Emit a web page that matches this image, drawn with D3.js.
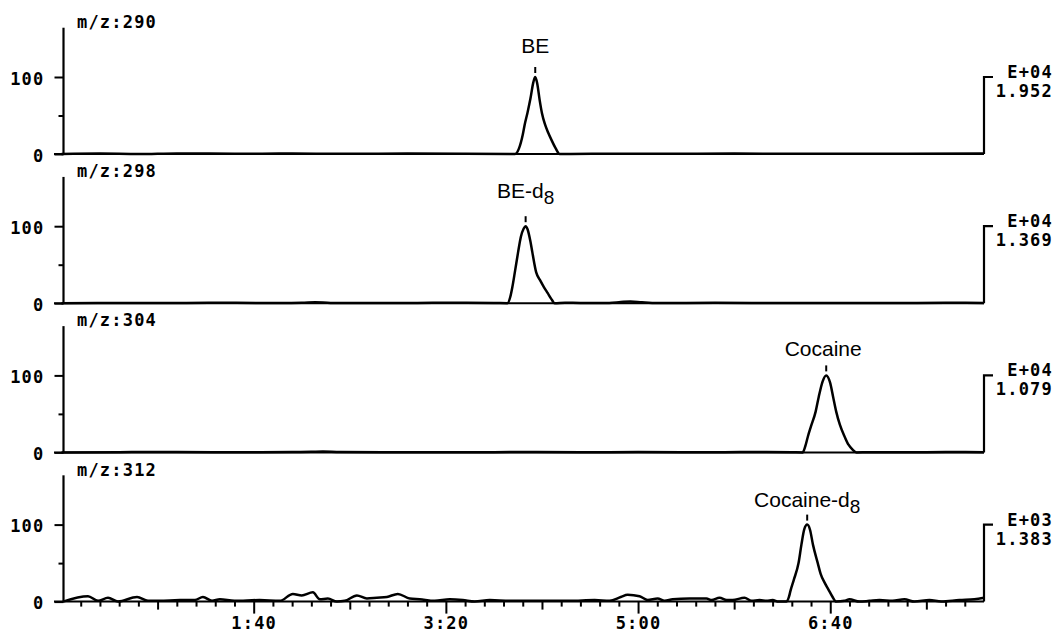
<!DOCTYPE html>
<html><head><meta charset="utf-8">
<script src="https://cdn.jsdelivr.net/npm/d3@7"></script>
<style>body{margin:0;background:#fff}svg{display:block}</style>
</head><body><svg id="c" width="1058" height="635"></svg>
<script>
// ---------- data ----------
const panelLabels = ["m/z:290", "m/z:298", "m/z:304", "m/z:312"];
const scaleExponents = ["E+04", "E+04", "E+04", "E+03"];
const scaleValues = ["1.952", "1.369", "1.079", "1.383"];
const peakNames = ["BE", "BE-d", "Cocaine", "Cocaine-d"];
const peakSubscripts = ["", "8", "", "8"];
const peakTimes = [246.5, 241.5, 397.9, 388.0];

const yTicks = [0, 100];
const yMinorTicks = [50];
const xMajorTicks = [100, 200, 300, 400];
const xMajorLabels = ["1:40", "3:20", "5:00", "6:40"];
const xMediumTicks = [50, 150, 250, 350, 450];
const xMinorTicks = [10,20,30,40,60,70,80,90,110,120,130,140,160,170,180,190,210,220,230,240,260,270,280,290,310,320,330,340,360,370,380,390,410,420,430,440,460,470];

// m/z 290 (BE)
const t290 = [0, 20, 40, 60, 90, 120, 150, 180, 210, 236, 238, 240, 241, 242.5, 244, 245.5, 246.5, 247.5, 248.8, 250, 251.5, 253.2, 255, 257, 259.2, 262, 290, 320, 350, 380, 410, 440, 480];
const i290 = [0, 0.5, 0, 0.8, 0.3, 0.6, 0.2, 0.5, 0.3, 0, 7, 25, 38, 54, 72, 93, 100, 92, 70, 53, 39, 28, 18, 8, 0, 0, 0.4, 0.2, 0.5, 0.2, 0.4, 0.3, 0.5];

// m/z 298 (BE-d8)
const t298 = [0, 25, 50, 80, 110, 125, 132, 140, 170, 200, 225, 232, 233.5, 234.6, 236, 237.5, 239, 240.5, 241.5, 242.5, 244, 245, 247, 249, 251, 253, 255, 256.6, 262, 270, 285, 291, 296, 302, 310, 340, 370, 400, 430, 460, 480];
const i298 = [0, 0.4, 0.2, 0.6, 0.3, 0.5, 1.2, 0.4, 0.2, 0.5, 0.3, 0, 8, 21, 42, 65, 86, 97, 100, 96, 80, 66, 40, 30, 21, 13, 5, 0, 0.6, 0.3, 0.4, 1.5, 2.2, 1.2, 0.3, 0.5, 0.2, 0.4, 0.3, 0.5, 0.4];

// m/z 304 (Cocaine)
const t304 = [0, 30, 60, 90, 120, 130, 136, 145, 180, 210, 240, 270, 300, 330, 360, 380, 385.6, 387, 388.4, 390, 392.4, 394, 396, 397.9, 400, 401.5, 403.1, 405, 407.4, 409.5, 411.5, 413.7, 420, 440, 460, 480];
const i304 = [0, 0.3, 0.5, 0.2, 0.4, 0.8, 1.2, 0.4, 0.3, 0.2, 0.5, 0.3, 0.4, 0.2, 0.5, 0.2, 0, 8, 21, 34, 53, 72, 92, 100, 90, 72, 53, 36, 21, 10, 4, 0, 0.3, 0.2, 0.4, 0.3];

// m/z 312 (Cocaine-d8)
const t312 = [0.8, 13.8, 19, 24.2, 29.4, 39.3, 45, 51, 61.6, 69.4, 73.6, 78.3, 82.4, 90, 103, 113.6, 120.4, 125, 130.8, 134.4, 138.6, 143.3, 147.4, 153.7, 158.9, 164.1, 169.3, 175, 181.2, 186.4, 194.2, 202, 208.8, 215, 222.8, 233.2, 248.8, 264.4, 277.4, 285.2, 291, 294.6, 300.8, 305, 310.2, 313.8, 318, 326.8, 335.6, 338.3, 342.4, 346.1, 349.2, 355.4, 359, 363.2, 366.9, 370, 373.1, 377.1, 378.5, 379.3, 381, 383.5, 385, 386.5, 388, 389.5, 391, 393.5, 395, 397, 399, 401, 403.1, 407.4, 410, 415.2, 420.4, 425.6, 432.4, 438.6, 443.8, 451.6, 457.8, 467.2, 475, 480];
const i312 = [0, 7, 1, 5, 0, 6, 1, 1, 2, 2, 6, 1, 3, 1, 2, 1, 10, 8, 12, 3, 4, 0, 1, 8, 4, 5, 6, 10, 4, 3, 1, 3, 2, 0, 2, 1, 1, 1, 2, 1, 6, 9, 7, 2, 4, 1, 3, 4, 4, 2, 5, 2, 2, 5, 1, 2, 1, 2, 0, 0, 6, 14, 28, 50, 74, 94, 100, 93, 74, 50, 36, 25, 16, 7, 0, 1, 3, 0, 1, 2, 1, 3, 0, 2, 0, 2, 3, 5];

const panelTimes = [t290, t298, t304, t312];
const panelValues = [i290, i298, i304, i312];

// ---------- layout / style ----------
const svg = d3.select("#c");
const monoFont = "'DejaVu Sans Mono', 'Liberation Mono', monospace";
const monoSize = 17;
const monoSpacing = 1.2;
const sansFont = "'Liberation Sans', Arial, sans-serif";
const baseY0 = 154, panelStep = 149.2, unitPx = 0.77, axisTopVal = 164;
const labelGap = [14, 18, 9, 8];
const labelDx = [0, 0, -3, 0];
const lineW = 2.5;

const x = d3.scaleLinear().domain([0, 480]).range([61.5, 984]);
const axisX = 63.5;

function monoStyle(sel) {
  return sel.attr("font-family", monoFont).attr("font-weight", "bold")
    .attr("font-size", monoSize).attr("letter-spacing", monoSpacing).attr("fill", "#000");
}

panelLabels.forEach((lab, p) => {
  const b = baseY0 + p * panelStep;
  const y = d3.scaleLinear().domain([0, axisTopVal]).range([b, b - axisTopVal * unitPx]);
  const g = svg.append("g");

  // baseline
  g.append("line").attr("x1", 54).attr("x2", x(480)).attr("y1", y(0)).attr("y2", y(0))
    .attr("stroke", "#000").attr("stroke-width", 2);

  // left axis
  const ax = g.append("g").attr("transform", `translate(${axisX},0)`)
    .call(d3.axisLeft(y).tickValues(yTicks).tickSize(9).tickPadding(10).tickFormat(d3.format("d")));
  ax.select(".domain").attr("stroke-width", 2.2).attr("d", `M0,${y(0)}V${y(axisTopVal)}`);
  ax.selectAll(".tick line").attr("stroke-width", 2);
  monoStyle(ax.selectAll(".tick text")).attr("dy", "0.42em");
  const axm = g.append("g").attr("transform", `translate(${axisX},0)`)
    .call(d3.axisLeft(y).tickValues(yMinorTicks).tickSize(5).tickFormat(""));
  axm.select(".domain").remove();
  axm.selectAll(".tick line").attr("stroke-width", 2);

  // panel label
  monoStyle(g.append("text").attr("x", 77).attr("y", y(0) - 126).text(lab));

  // right bracket + scale text
  g.append("path").attr("d", `M${x(480)},${y(0)}V${y(100)}H${x(480) + 9}`)
    .attr("fill", "none").attr("stroke", "#000").attr("stroke-width", 2.2);
  monoStyle(g.append("text").attr("x", 1053).attr("y", y(100) + 1).attr("text-anchor", "end").text(scaleExponents[p]));
  monoStyle(g.append("text").attr("x", 1053).attr("y", y(100) + 20).attr("text-anchor", "end").text(scaleValues[p]));

  // trace
  const pts = panelTimes[p].map((t, k) => [t, panelValues[p][k]]);
  g.append("path").datum(pts)
    .attr("d", d3.line().x(d => x(d[0])).y(d => y(d[1])).curve(d3.curveMonotoneX))
    .attr("fill", "none").attr("stroke", "#000").attr("stroke-width", lineW).attr("stroke-linejoin", "round");

  // peak marker and label
  const px = x(peakTimes[p]);
  g.append("line").attr("x1", px).attr("x2", px).attr("y1", y(100) - 10).attr("y2", y(100) - 4)
    .attr("stroke", "#000").attr("stroke-width", 2);
  const tx = g.append("text").attr("x", px + labelDx[p]).attr("y", y(100) - 10 - labelGap[p])
    .attr("text-anchor", "middle").attr("font-family", sansFont).attr("font-size", 21).attr("fill", "#000");
  tx.append("tspan").text(peakNames[p]);
  if (peakSubscripts[p]) tx.append("tspan").attr("dy", 6).attr("font-size", 19).text(peakSubscripts[p]);

  // x-axis ticks on bottom panel
  if (p === panelLabels.length - 1) {
    const mk = (vals, size, labels) => {
      const a = d3.axisBottom(x).tickValues(vals).tickSize(size).tickPadding(3)
        .tickFormat(labels ? (d, k) => labels[k] : "");
      const ga = g.append("g").attr("transform", `translate(0,${y(0)})`).call(a);
      ga.select(".domain").remove();
      ga.selectAll(".tick line").attr("stroke-width", 2);
      monoStyle(ga.selectAll(".tick text"));
    };
    mk(xMinorTicks, 5, null);
    mk(xMediumTicks, 8, null);
    mk(xMajorTicks, 12, xMajorLabels);
  }
});
</script>
</body></html>
